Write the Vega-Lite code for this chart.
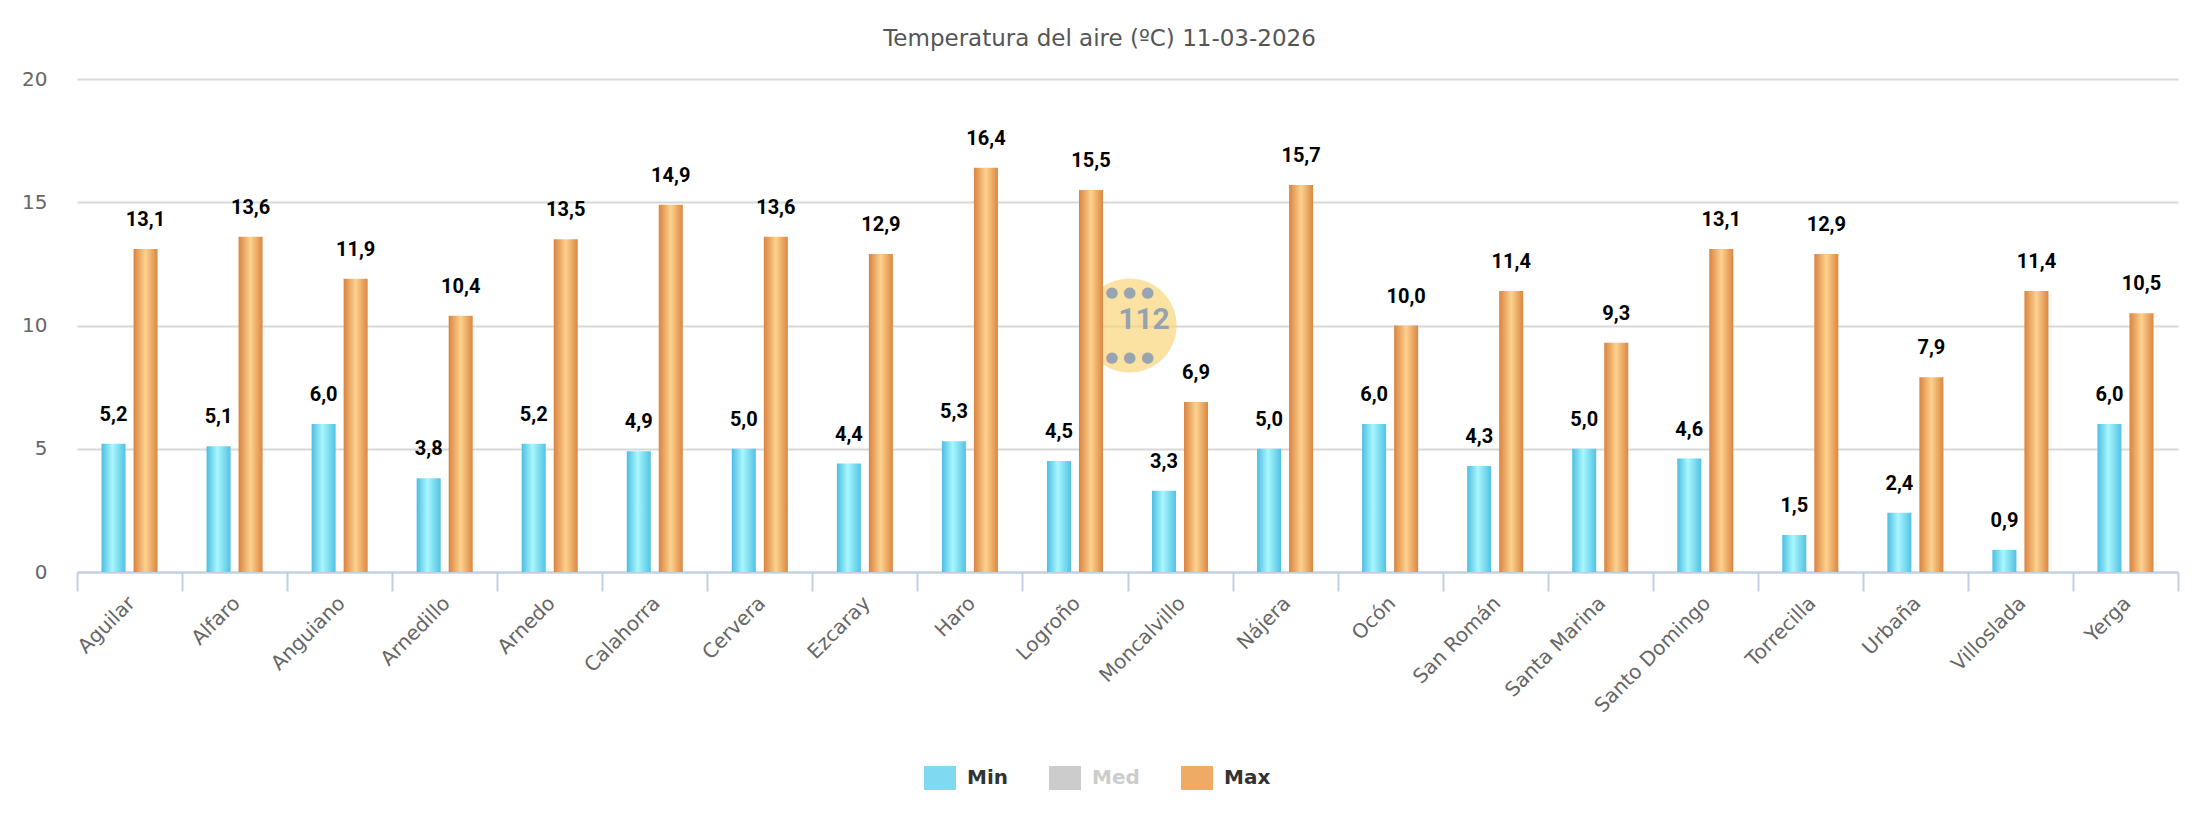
{
  "$schema": "https://vega.github.io/schema/vega-lite/v6.json",
  "width": 2101,
  "height": 493,
  "autosize": {"type": "none"},
  "padding": {"left": 77, "top": 79, "right": 22, "bottom": 268},
  "background": "#ffffff",
  "title": {
    "text": "Temperatura del aire (ºC) 11-03-2026",
    "anchor": "middle",
    "frame": "group",
    "dx": -28,
    "offset": 0,
    "baseline": "alphabetic",
    "font": "DejaVu Sans",
    "fontSize": 23,
    "fontWeight": "normal",
    "color": "#555555"
  },
  "datasets": {
    "temperaturas": [
      {"estacion": "Aguilar", "serie": "Min", "valor": 5.2},
      {"estacion": "Aguilar", "serie": "Max", "valor": 13.1},
      {"estacion": "Alfaro", "serie": "Min", "valor": 5.1},
      {"estacion": "Alfaro", "serie": "Max", "valor": 13.6},
      {"estacion": "Anguiano", "serie": "Min", "valor": 6.0},
      {"estacion": "Anguiano", "serie": "Max", "valor": 11.9},
      {"estacion": "Arnedillo", "serie": "Min", "valor": 3.8},
      {"estacion": "Arnedillo", "serie": "Max", "valor": 10.4},
      {"estacion": "Arnedo", "serie": "Min", "valor": 5.2},
      {"estacion": "Arnedo", "serie": "Max", "valor": 13.5},
      {"estacion": "Calahorra", "serie": "Min", "valor": 4.9},
      {"estacion": "Calahorra", "serie": "Max", "valor": 14.9},
      {"estacion": "Cervera", "serie": "Min", "valor": 5.0},
      {"estacion": "Cervera", "serie": "Max", "valor": 13.6},
      {"estacion": "Ezcaray", "serie": "Min", "valor": 4.4},
      {"estacion": "Ezcaray", "serie": "Max", "valor": 12.9},
      {"estacion": "Haro", "serie": "Min", "valor": 5.3},
      {"estacion": "Haro", "serie": "Max", "valor": 16.4},
      {"estacion": "Logroño", "serie": "Min", "valor": 4.5},
      {"estacion": "Logroño", "serie": "Max", "valor": 15.5},
      {"estacion": "Moncalvillo", "serie": "Min", "valor": 3.3},
      {"estacion": "Moncalvillo", "serie": "Max", "valor": 6.9},
      {"estacion": "Nájera", "serie": "Min", "valor": 5.0},
      {"estacion": "Nájera", "serie": "Max", "valor": 15.7},
      {"estacion": "Ocón", "serie": "Min", "valor": 6.0},
      {"estacion": "Ocón", "serie": "Max", "valor": 10.0},
      {"estacion": "San Román", "serie": "Min", "valor": 4.3},
      {"estacion": "San Román", "serie": "Max", "valor": 11.4},
      {"estacion": "Santa Marina", "serie": "Min", "valor": 5.0},
      {"estacion": "Santa Marina", "serie": "Max", "valor": 9.3},
      {"estacion": "Santo Domingo", "serie": "Min", "valor": 4.6},
      {"estacion": "Santo Domingo", "serie": "Max", "valor": 13.1},
      {"estacion": "Torrecilla", "serie": "Min", "valor": 1.5},
      {"estacion": "Torrecilla", "serie": "Max", "valor": 12.9},
      {"estacion": "Urbaña", "serie": "Min", "valor": 2.4},
      {"estacion": "Urbaña", "serie": "Max", "valor": 7.9},
      {"estacion": "Villoslada", "serie": "Min", "valor": 0.9},
      {"estacion": "Villoslada", "serie": "Max", "valor": 11.4},
      {"estacion": "Yerga", "serie": "Min", "valor": 6.0},
      {"estacion": "Yerga", "serie": "Max", "valor": 10.5}
    ]
  },
  "layer": [
    {
      "description": "112 watermark: disc",
      "data": {"values": [{}]},
      "mark": {"type": "point", "shape": "circle", "filled": true, "size": 8836, "color": "#f9d57a", "opacity": 0.7, "strokeWidth": 0},
      "encoding": {
        "x": {"datum": "Moncalvillo", "type": "nominal", "bandPosition": 0.02},
        "y": {"datum": 10, "type": "quantitative"}
      }
    },
    {
      "description": "112 watermark: upper dots",
      "data": {"values": [{}]},
      "mark": {"type": "text", "text": "● ● ●", "font": "DejaVu Sans", "fontSize": 15, "color": "#8e9eb2", "opacity": 0.9, "baseline": "middle", "align": "center"},
      "encoding": {
        "x": {"datum": "Moncalvillo", "type": "nominal", "bandPosition": 0.02},
        "y": {"datum": 11.35, "type": "quantitative"}
      }
    },
    {
      "description": "112 watermark: lower dots",
      "data": {"values": [{}]},
      "mark": {"type": "text", "text": "● ● ●", "font": "DejaVu Sans", "fontSize": 15, "color": "#8e9eb2", "opacity": 0.9, "baseline": "middle", "align": "center"},
      "encoding": {
        "x": {"datum": "Moncalvillo", "type": "nominal", "bandPosition": 0.02},
        "y": {"datum": 8.72, "type": "quantitative"}
      }
    },
    {
      "description": "112 watermark: number",
      "data": {"values": [{}]},
      "mark": {"type": "text", "text": "112", "font": "Roboto", "fontSize": 30, "fontWeight": "bold", "color": "#8b9db3", "opacity": 0.9, "baseline": "middle", "align": "center"},
      "encoding": {
        "x": {"datum": "Moncalvillo", "type": "nominal", "bandPosition": 0.157},
        "y": {"datum": 10.22, "type": "quantitative"}
      }
    },
    {
      "data": {"name": "temperaturas"},
      "encoding": {
        "x": {
          "field": "estacion",
          "type": "nominal",
          "sort": null,
          "scale": {
            "domain": ["Aguilar", "Alfaro", "Anguiano", "Arnedillo", "Arnedo", "Calahorra", "Cervera", "Ezcaray", "Haro", "Logroño", "Moncalvillo", "Nájera", "Ocón", "San Román", "Santa Marina", "Santo Domingo", "Torrecilla", "Urbaña", "Villoslada", "Yerga"],
            "paddingInner": 0,
            "paddingOuter": 0
          },
          "axis": {
            "title": null,
            "tickBand": "extent",
            "ticks": true,
            "tickSize": 19,
            "tickWidth": 2,
            "tickColor": "#c0d0e2",
            "domain": true,
            "domainColor": "#c0d0e2",
            "domainWidth": 2,
            "grid": false,
            "labelAngle": -45,
            "labelAlign": "right",
            "labelBaseline": "alphabetic",
            "labelPadding": 13,
            "labelOffset": 6,
            "labelFont": "DejaVu Sans",
            "labelFontSize": 20,
            "labelColor": "#666666",
            "labelOverlap": false,
            "labelLimit": 400
          }
        },
        "xOffset": {
          "field": "serie",
          "type": "nominal",
          "scale": {"domain": ["Min", "Max"], "paddingInner": 0.25, "paddingOuter": 0.7656}
        },
        "y": {
          "field": "valor",
          "type": "quantitative",
          "scale": {"domain": [0, 20], "nice": false},
          "axis": {
            "title": null,
            "values": [0, 5, 10, 15, 20],
            "domain": false,
            "ticks": false,
            "grid": true,
            "gridColor": "#d8d8d8",
            "gridWidth": 2,
            "labelFont": "DejaVu Sans",
            "labelFontSize": 20,
            "labelColor": "#666666",
            "labelPadding": 30
          }
        }
      },
      "layer": [
        {
          "transform": [{"filter": "datum.serie === 'Min'"}],
          "mark": {
            "type": "bar",
            "strokeWidth": 0,
            "fill": {"gradient": "linear", "x1": 0, "y1": 0, "x2": 1, "y2": 0,
                     "stops": [{"offset": 0, "color": "#4dbde2"}, {"offset": 0.45, "color": "#a8f7fd"}, {"offset": 1, "color": "#52c2e4"}]}
          }
        },
        {
          "transform": [{"filter": "datum.serie === 'Max'"}],
          "mark": {
            "type": "bar",
            "strokeWidth": 0,
            "fill": {"gradient": "linear", "x1": 0, "y1": 0, "x2": 1, "y2": 0,
                     "stops": [{"offset": 0, "color": "#da8340"}, {"offset": 0.5, "color": "#fdd28e"}, {"offset": 1, "color": "#db8741"}]}
          }
        },
        {
          "description": "zero-height bars that carry the series legend",
          "mark": {"type": "bar", "strokeWidth": 0},
          "encoding": {
            "y": {"datum": 0, "type": "quantitative"},
            "color": {
              "field": "serie",
              "type": "nominal",
              "scale": {"domain": ["Min", "Med", "Max"], "range": ["#7fd9f0", "#cccccc", "#efab66"]},
              "legend": {
                "title": null,
                "orient": "none",
                "legendX": 847,
                "legendY": 683,
                "direction": "horizontal",
                "symbolType": "M-1,-0.75H1V0.75H-1Z",
                "symbolSize": 1024,
                "symbolStrokeWidth": 0,
                "symbolOpacity": 1,
                "labelFont": "DejaVu Sans",
                "labelFontSize": 20,
                "labelFontWeight": "bold",
                "labelColor": "#333333",
                "labelOffset": 11,
                "columnPadding": 41,
                "padding": 0,
                "encoding": {
                  "labels": {
                    "fill": {"value": {"expr": "datum.label === 'Med' ? '#cccccc' : '#333333'"}}
                  }
                }
              }
            }
          }
        },
        {
          "mark": {"type": "text", "font": "Roboto", "fontSize": 20, "fontWeight": "bold", "color": "#000000", "baseline": "alphabetic", "align": "center", "dy": -23},
          "encoding": {
            "text": {"field": "valor", "type": "quantitative", "format": ".1f"}
          }
        }
      ]
    }
  ],
  "config": {
    "view": {"stroke": null},
    "locale": {
      "number": {"decimal": ",", "thousands": ".", "grouping": [3], "currency": ["", " €"]}
    }
  }
}
